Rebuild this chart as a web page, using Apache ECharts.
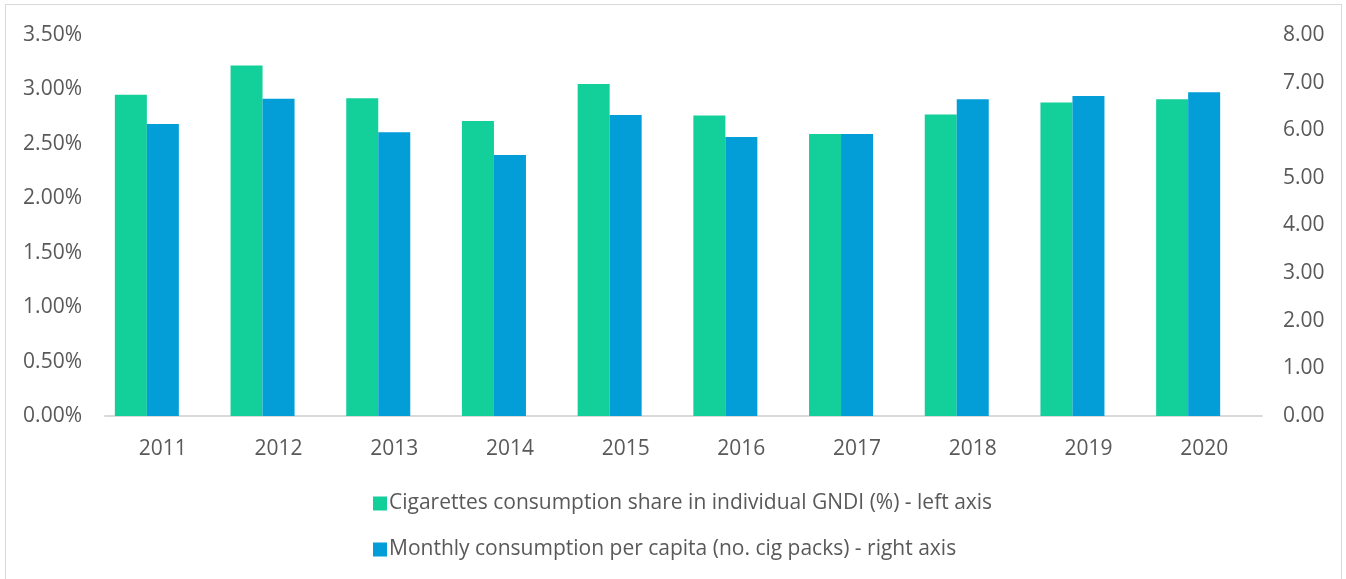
<!DOCTYPE html>
<html>
<head>
<meta charset="utf-8">
<script src="https://cdn.jsdelivr.net/npm/echarts@6/dist/echarts.min.js"></script>
<style>
  html, body { margin: 0; padding: 0; background: #fff; }
  #frame {
    position: absolute; left: 5px; top: 4px; width: 1337px; height: 590px;
    border: 1px solid #d9d9d9; box-sizing: border-box;
  }
  #chart { position: absolute; left: 0; top: 0; width: 1346px; height: 579px; }
</style>
</head>
<body>
<div id="frame"></div>
<div id="chart"></div>
<script>
// data
const years = ['2011', '2012', '2013', '2014', '2015', '2016', '2017', '2018', '2019', '2020']
const shareGNDI = [2.95, 3.22, 2.92, 2.71, 3.05, 2.76, 2.59, 2.77, 2.88, 2.91]   // % - left axis
const packsMonthly = [6.13, 6.66, 5.96, 5.48, 6.32, 5.86, 5.92, 6.65, 6.72, 6.80] // right axis
const seriesNames = [
  'Cigarettes consumption share in individual GNDI (%) - left axis',
  'Monthly consumption per capita (no. cig packs) - right axis'
]

const txt = '#595959'
const font = 'Open Sans'

const chart = echarts.init(document.getElementById('chart'))
chart.setOption({
  animation: false,
  textStyle: { fontFamily: font, color: txt },
  grid: { left: 105, right: 84, top: 35, bottom: 163 },
  legend: {
    orient: 'vertical',
    left: 368,
    top: 488,
    itemGap: 25,
    icon: 'rect',
    itemWidth: 14,
    itemHeight: 14,
    textStyle: { fontFamily: font, fontSize: 21, color: txt, padding: [0, 0, 0, -3] },
    data: seriesNames
  },
  xAxis: {
    type: 'category',
    data: years,
    axisLine: { lineStyle: { color: '#d9d9d9', width: 2 } },
    axisTick: { show: false },
    axisLabel: { fontSize: 21, color: txt, margin: 23 }
  },
  yAxis: [
    {
      type: 'value', min: 0, max: 3.5, interval: 0.5,
      splitLine: { show: false },
      axisLine: { show: false },
      axisLabel: { fontSize: 21, color: txt, margin: 23, formatter: v => v.toFixed(2) + '%' }
    },
    {
      type: 'value', min: 0, max: 8, interval: 1,
      splitLine: { show: false },
      axisLine: { show: false },
      axisLabel: { fontSize: 21, color: txt, margin: 21, formatter: v => v.toFixed(2) }
    }
  ],
  series: [
    {
      name: seriesNames[0],
      type: 'bar',
      yAxisIndex: 0,
      barWidth: 32,
      barGap: 0,
      itemStyle: { color: '#13cf99' },
      data: shareGNDI
    },
    {
      name: seriesNames[1],
      type: 'bar',
      yAxisIndex: 1,
      barWidth: 32,
      barGap: 0,
      itemStyle: { color: '#039dd8' },
      data: packsMonthly
    },
    {
      // empty slot in the cluster, as in the original chart
      name: 'blank',
      type: 'bar',
      yAxisIndex: 1,
      barWidth: 32,
      barGap: 0,
      data: []
    }
  ]
})
</script>
</body>
</html>
